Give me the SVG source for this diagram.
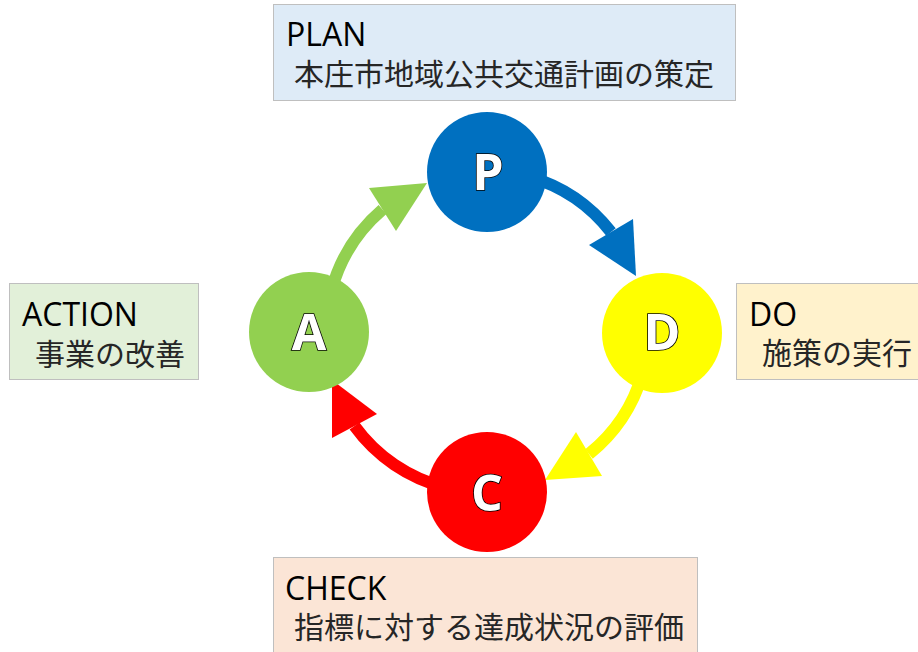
<svg xmlns="http://www.w3.org/2000/svg" width="918" height="652" viewBox="0 0 918 652">
  <style>
    .box { stroke: #BFBFBF; stroke-width: 1; }
    .head { font-family: "Open Sans", "Liberation Sans", sans-serif; font-size: 32px; fill: #000000; }
    .sub { font-family: "Noto Sans CJK JP", "Noto Sans", sans-serif; font-size: 30px; fill: #262626; }
    .letter { font-family: "Open Sans", "Liberation Sans", sans-serif; font-weight: 700; font-size: 50px; fill: #FFFFFF; stroke: #000000; stroke-width: 1.6; paint-order: stroke; text-anchor: middle; }
    .arc { fill: none; stroke-width: 12; }
  </style>
  <rect width="918" height="652" fill="#FFFFFF"/>

  <!-- cycle connectors: arcs on a circle of radius 161 around (487,332) -->
  <g id="connectors">
    <g id="p-to-d">
      <path class="arc" stroke="#0070C0" d="M 528.7 176.5 A 161 161 0 0 1 611 232"/>
      <polygon fill="#0070C0" points="589,245 633,219 636,276"/>
    </g>
    <g id="d-to-c">
      <path class="arc" stroke="#FFFF00" d="M 642.5 373.7 A 161 161 0 0 1 589 454"/>
      <polygon fill="#FFFF00" points="576,432 602,476 545,480"/>
    </g>
    <g id="c-to-a">
      <path class="arc" stroke="#FF0000" d="M 445.3 487.5 A 161 161 0 0 1 354.5 426"/>
      <polygon fill="#FF0000" points="377,414 332,438 332,380"/>
    </g>
    <g id="a-to-p">
      <path class="arc" stroke="#92D050" d="M 331.5 290.3 A 161 161 0 0 1 382.5 209.5"/>
      <polygon fill="#92D050" points="369,188 396,231 427,183"/>
    </g>
  </g>

  <!-- cycle nodes -->
  <g id="node-p">
    <circle cx="487" cy="172" r="60" fill="#0070C0"/>
    <text class="letter" x="488" y="190">P</text>
  </g>
  <g id="node-d">
    <circle cx="662" cy="333" r="60" fill="#FFFF00"/>
    <text class="letter" x="662" y="350">D</text>
  </g>
  <g id="node-c">
    <circle cx="487" cy="492" r="60" fill="#FF0000"/>
    <text class="letter" x="487" y="511">C</text>
  </g>
  <g id="node-a">
    <circle cx="309" cy="332" r="60" fill="#92D050"/>
    <text class="letter" x="309" y="350">A</text>
  </g>

  <!-- description boxes -->
  <g id="label-plan">
    <rect class="box" x="273.5" y="4.5" width="462" height="96" fill="#DEEBF7"/>
    <text class="head" x="286" y="46">PLAN</text>
    <text class="sub" x="294" y="85">本庄市地域公共交通計画の策定</text>
  </g>
  <g id="label-do">
    <rect class="box" x="736.5" y="283.5" width="190" height="96" fill="#FFF2CC"/>
    <text class="head" x="749" y="326">DO</text>
    <text class="sub" x="762" y="364">施策の実行</text>
  </g>
  <g id="label-check">
    <rect class="box" x="273.5" y="557.5" width="424" height="110" fill="#FBE5D6"/>
    <text class="head" x="285" y="600">CHECK</text>
    <text class="sub" x="294" y="638">指標に対する達成状況の評価</text>
  </g>
  <g id="label-action">
    <rect class="box" x="9.5" y="283.5" width="189" height="96" fill="#E2F0D9"/>
    <text class="head" x="22" y="326">ACTION</text>
    <text class="sub" x="35" y="365">事業の改善</text>
  </g>
</svg>
